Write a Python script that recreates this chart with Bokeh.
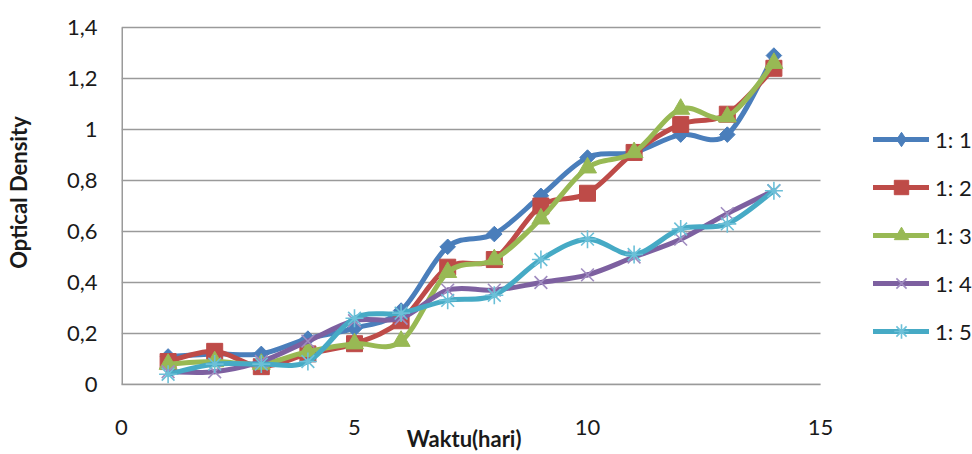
import numpy as np
from bokeh.plotting import figure
from bokeh.models import Range1d, FixedTicker, Legend, LegendItem
from bokeh.embed import file_html
from bokeh.resources import INLINE

# ---- data ----
days = [1, 2, 3, 4, 5, 6, 7, 8, 9, 10, 11, 12, 13, 14]
s_1_1 = [0.11, 0.12, 0.12, 0.18, 0.22, 0.29, 0.54, 0.59, 0.74, 0.89, 0.91, 0.98, 0.98, 1.29]
s_1_2 = [0.09, 0.13, 0.07, 0.12, 0.16, 0.25, 0.46, 0.49, 0.70, 0.75, 0.91, 1.02, 1.06, 1.24]
s_1_3 = [0.08, 0.09, 0.08, 0.13, 0.16, 0.17, 0.44, 0.49, 0.65, 0.85, 0.91, 1.08, 1.05, 1.26]
s_1_4 = [0.05, 0.05, 0.09, 0.17, 0.25, 0.26, 0.37, 0.37, 0.40, 0.43, 0.50, 0.57, 0.67, 0.76]
s_1_5 = [0.04, 0.08, 0.08, 0.09, 0.26, 0.28, 0.33, 0.35, 0.49, 0.57, 0.51, 0.61, 0.63, 0.76]
series_names = ["1: 1", "1: 2", "1: 3", "1: 4", "1: 5"]
x_ticks = [0, 5, 10, 15]
y_ticks = [0, 0.2, 0.4, 0.6, 0.8, 1, 1.2, 1.4]
y_tick_labels = ["0", "0,2", "0,4", "0,6", "0,8", "1", "1,2", "1,4"]
x_title = "Waktu(hari)"
y_title = "Optical Density"

FONT = "Lato"
TXT = "#1a1a1a"
GRID = "#9a9a9a"

# layout (pixels): plot area 699 x 357 starting at (121, 27); the frame is
# extended to the right edge and top so the legend can sit beside the axes.
X_MIN, X_MAX = x_ticks[0], x_ticks[-1]
Y_MIN, Y_MAX = y_ticks[0], y_ticks[-1]
x_end = X_MAX * (972 - 121) / 699.0
y_end = Y_MAX + 27 * (Y_MAX - Y_MIN) / 357.0

p = figure(width=972, height=454, output_backend="svg", toolbar_location=None,
           title=None, x_range=Range1d(X_MIN, x_end), y_range=Range1d(Y_MIN, y_end),
           min_border_left=121, min_border_right=0, min_border_top=0,
           min_border_bottom=70)
p.outline_line_color = None
p.background_fill_color = "white"
p.xgrid.visible = False
p.ygrid.visible = False

for ax in (p.xaxis[0], p.yaxis[0]):
    ax.axis_line_color = GRID
    ax.axis_line_width = 1.5
    ax.major_tick_out = 0
    ax.major_tick_in = 0
    ax.minor_tick_out = 0
    ax.minor_tick_in = 0
    ax.major_label_text_font = FONT
    ax.major_label_text_font_size = "22px"
    ax.major_label_text_color = TXT
    ax.axis_label_text_font = FONT
    ax.axis_label_text_font_size = "22px"
    ax.axis_label_text_font_style = "bold"
    ax.axis_label_text_color = TXT

p.xaxis[0].ticker = FixedTicker(ticks=x_ticks)
p.xaxis[0].bounds = (X_MIN, X_MAX)
p.xaxis[0].major_label_standoff = 35
# trailing no-break spaces move the centred title over the 0..15 span
p.xaxis[0].axis_label = x_title + "\u00a0" * 31
p.xaxis[0].axis_label_standoff = -13
p.yaxis[0].ticker = FixedTicker(ticks=y_ticks)
p.yaxis[0].major_label_overrides = {t: l for t, l in zip(y_ticks, y_tick_labels)}
p.yaxis[0].major_label_standoff = 24
p.yaxis[0].axis_label = y_title
p.yaxis[0].axis_label_standoff = 32
p.yaxis[0].axis_line_color = None

# horizontal gridlines over the 0..15 span and the vertical axis line
p.segment(x0=[X_MIN] * len(y_ticks), y0=y_ticks, x1=[X_MAX] * len(y_ticks), y1=y_ticks,
          line_color=GRID, line_width=1.5)
p.segment(x0=[X_MIN], y0=[Y_MIN], x1=[X_MIN], y1=[Y_MAX], line_color=GRID, line_width=3)

colors = ["#4A7EBB", "#BE4B48", "#98B954", "#7D60A0", "#46AAC5"]
mcolors = ["#4A7EBB", "#BE4B48", "#98B954", "#A08CC0", "#6CC0D8"]
markers = ["square", "square", "triangle", "x", "asterisk"]
legend_markers = ["diamond", "square", "triangle", "x", "asterisk"]
angles = [np.pi / 4, 0, 0, 0, 0]
sizes = [11, 16, 18, 18, 18]
all_series = [s_1_1, s_1_2, s_1_3, s_1_4, s_1_5]

legend_items = []
xs = np.array(days, dtype=float)
for name, ys, c, mc, mk, lmk, ang, sz in zip(series_names, all_series, colors, mcolors,
                                              markers, legend_markers, angles, sizes):
    ys = np.array(ys, dtype=float)
    n = len(xs)
    # Catmull-Rom style control points (Excel smoothed line)
    xp = np.concatenate([[xs[0]], xs, [xs[-1]]])
    yp = np.concatenate([[ys[0]], ys, [ys[-1]]])
    x0 = xs[:-1]; y0 = ys[:-1]; x1 = xs[1:]; y1 = ys[1:]
    cx0 = x0 + (xp[2:n + 1] - xp[0:n - 1]) / 6.0
    cy0 = y0 + (yp[2:n + 1] - yp[0:n - 1]) / 6.0
    cx1 = x1 - (xp[3:n + 2] - xp[1:n]) / 6.0
    cy1 = y1 - (yp[3:n + 2] - yp[1:n]) / 6.0
    p.bezier(x0=x0, y0=y0, x1=x1, y1=y1, cx0=cx0, cy0=cy0, cx1=cx1, cy1=cy1,
             line_color=c, line_width=5, line_cap="round")
    is_line_marker = mk in ("x", "asterisk")
    lw = 1.6 if is_line_marker else 1
    p.scatter(x=xs, y=ys, marker=mk, size=sz, angle=ang,
              fill_color=mc, line_color=mc, line_width=lw)
    # legend-only renderers (no visible data)
    leg_line = p.line(x=[np.nan], y=[np.nan], line_color=c, line_width=5,
                      line_cap="round")
    leg_mark = p.scatter(x=[np.nan], y=[np.nan], marker=lmk, size=sz,
                         fill_color=mc, line_color=mc, line_width=lw)
    legend_items.append(LegendItem(label=name, renderers=[leg_line, leg_mark]))

legend = Legend(items=legend_items, location=(752, 35), padding=0, margin=0,
                ncols=1, orientation="vertical",
                glyph_width=56, glyph_height=36, spacing=12, label_standoff=6,
                label_text_font=FONT, label_text_font_size="22px",
                label_text_color=TXT, border_line_color=None,
                background_fill_alpha=0)
p.add_layout(legend, "center")

open("out.html", "w").write(file_html(p, INLINE))
